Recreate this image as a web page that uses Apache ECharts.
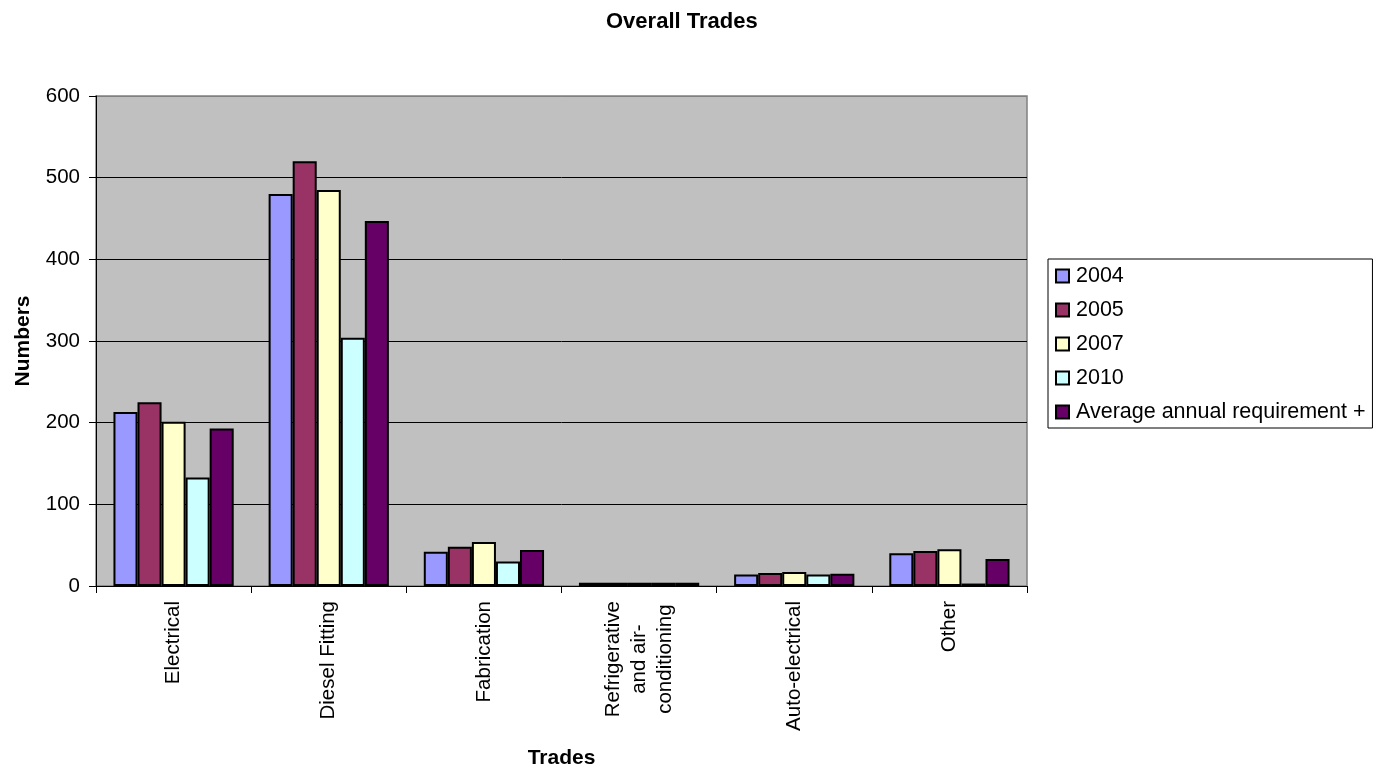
<!DOCTYPE html>
<html>
<head>
<meta charset="utf-8">
<script src="https://cdn.jsdelivr.net/npm/echarts@6/dist/echarts.min.js"></script>
<style>
  html, body { margin: 0; padding: 0; background: #fff; overflow: hidden; }
  #chart { width: 1377px; height: 774px; }
</style>
</head>
<body>
<div id="chart"></div>
<script>
// Trade categories along the x axis
const categories = [
  'Electrical',
  'Diesel Fitting',
  'Fabrication',
  'Refrigerative\nand air-\nconditioning',
  'Auto-electrical',
  'Other'
];

// Numbers per trade for each survey year
const values2004 = [213, 480, 42, 4, 14, 40];
const values2005 = [225, 520, 48, 4, 16, 43];
const values2007 = [201, 485, 54, 4, 17, 45];
const values2010 = [133, 304, 30, 4, 14, 3];
const valuesAverage = [193, 447, 44, 4, 15, 33];

const seriesNames = ['2004', '2005', '2007', '2010', 'Average annual requirement +'];
const seriesColors = ['#9999FF', '#993366', '#FFFFCC', '#CCFFFF', '#660066'];
const seriesValues = [values2004, values2005, values2007, values2010, valuesAverage];

const FONT = 'Liberation Sans, Arial, sans-serif';

const chart = echarts.init(document.getElementById('chart'), null, { renderer: 'canvas' });

chart.setOption({
  animation: false,
  backgroundColor: '#ffffff',
  textStyle: { fontFamily: FONT, color: '#000' },
  title: {
    text: 'Overall Trades',
    left: 601,
    top: 6,
    textStyle: { fontFamily: FONT, fontSize: 22, fontWeight: 'bold', color: '#000' }
  },
  legend: {
    orient: 'vertical',
    left: 1048,
    top: 259,
    backgroundColor: '#ffffff',
    borderColor: '#000',
    borderWidth: 1,
    padding: [6, 7, 5, 7],
    itemWidth: 13,
    itemHeight: 13,
    itemGap: 12,
    icon: 'rect',
    itemStyle: { borderColor: '#000', borderWidth: 2 },
    textStyle: { fontFamily: FONT, fontSize: 21.5, color: '#000', lineHeight: 21, padding: [0, 0, 0, 2] },
    data: seriesNames
  },
  grid: {
    left: 96,
    width: 931,
    top: 96,
    height: 495,
    show: true,
    backgroundColor: '#C0C0C0',
    borderColor: '#808080',
    borderWidth: 1.5
  },
  xAxis: {
    type: 'category',
    data: categories,
    name: 'Trades',
    nameLocation: 'middle',
    nameGap: 162,
    nameTextStyle: { fontFamily: FONT, fontSize: 21, fontWeight: 'bold', color: '#000' },
    axisLine: { show: true, lineStyle: { color: '#000', width: 1 } },
    axisTick: { show: true, length: 7, lineStyle: { color: '#000' } },
    axisLabel: {
      rotate: 90,
      interval: 0,
      margin: 15,
      fontFamily: FONT,
      fontSize: 20.5,
      color: '#000',
      lineHeight: 26,
      // each line of a wrapped label is centred within its block
      formatter: (v) => v.split('\n').map((s) => '{c|' + s + '}').join('\n'),
      rich: {
        c: { align: 'center', fontFamily: FONT, fontSize: 20.5, lineHeight: 26, color: '#000' }
      }
    }
  },
  yAxis: {
    type: 'value',
    min: 0,
    max: 600,
    interval: 100,
    name: 'Numbers',
    nameLocation: 'middle',
    nameGap: 62,
    nameTextStyle: { fontFamily: FONT, fontSize: 21, fontWeight: 'bold', color: '#000' },
    axisLine: { show: true, lineStyle: { color: '#000', width: 1 } },
    axisTick: { show: true, length: 7, lineStyle: { color: '#000' } },
    axisLabel: { margin: 16, fontFamily: FONT, fontSize: 20.5, color: '#000' },
    splitLine: {
      show: true,
      lineStyle: { color: ['#000', '#000', '#000', '#000', '#000', '#000', '#808080'], width: 1 }
    }
  },
  series: seriesNames.map((name, i) => ({
    name: name,
    type: 'bar',
    data: seriesValues[i],
    barGap: '0%',
    barCategoryGap: '22.5%',
    itemStyle: { color: seriesColors[i], borderColor: '#000', borderWidth: 2 }
  }))
});
</script>
</body>
</html>
